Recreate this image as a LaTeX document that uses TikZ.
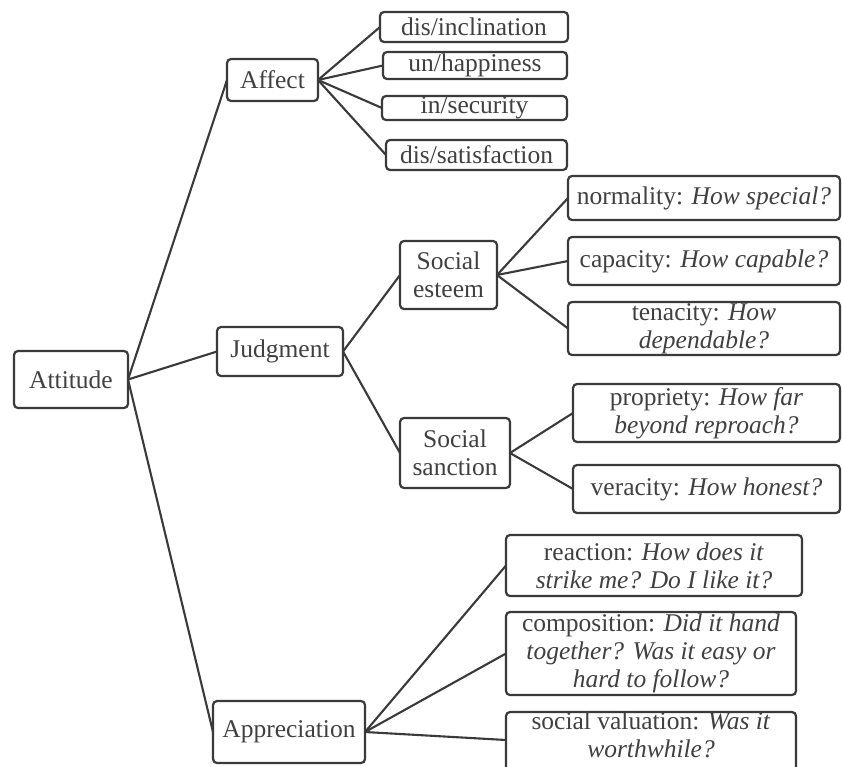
\documentclass[tikz,border=0pt]{standalone}
\usepackage{fontspec}
\setmainfont{Liberation Serif}
\definecolor{ink}{HTML}{3A3A3A}
\definecolor{txt}{HTML}{404040}
\begin{document}
\begin{tikzpicture}[x=1pt,y=-1pt,
  box/.style={draw=ink, line width=2.2pt, rounded corners=4pt, inner sep=0pt, outer sep=0pt,
    align=center, text=txt, font=\fontsize{25.5}{28}\selectfont},
  link/.style={draw=ink, line width=2.1pt}]
\clip (0,0) rectangle (842,767);
\fill[white] (0,0) rectangle (842,767);
% level 0
\node[box, minimum width=114pt, minimum height=57pt] (att) at (71,379.5) {Attitude};
% level 1
\node[box, minimum width=91pt, minimum height=42pt] (aff) at (272.5,80) {Affect};
\node[box, minimum width=126pt, minimum height=49pt] (jud) at (280,351.5) {Judgment};
\node[box, minimum width=152pt, minimum height=62pt] (app) at (289,732) {Appreciation};
% affect children
\node[box, minimum width=188pt, minimum height=30pt] (a1) at (474,27) {dis/inclination};
\node[box, minimum width=184pt, minimum height=27pt] (a2) at (475,65.5) {un/happiness};
\node[box, minimum width=185pt, minimum height=24pt] (a3) at (474.5,108) {in/security};
\node[box, minimum width=181pt, minimum height=30pt] (a4) at (476.5,155) {dis/satisfaction};
% judgment children
\node[box, minimum width=97pt, minimum height=68pt] (se) at (448.5,275) {Social\\esteem};
\node[box, minimum width=110pt, minimum height=70pt] (ss) at (455,453) {Social\\sanction};
% social esteem children
\node[box, minimum width=272pt, minimum height=44pt] (n1) at (704,198) {normality: \textit{How special?}};
\node[box, minimum width=272pt, minimum height=48pt] (n2) at (704,261) {capacity: \textit{How capable?}};
\node[box, minimum width=272pt, minimum height=53pt] (n3) at (704,328.5) {tenacity: \textit{How}\\\textit{dependable?}};
% social sanction children
\node[box, minimum width=267pt, minimum height=58pt] (s1) at (706.5,413) {propriety: \textit{How far}\\\textit{beyond reproach?}};
\node[box, minimum width=267pt, minimum height=48pt] (s2) at (706.5,489) {veracity: \textit{How honest?}};
% appreciation children
\node[box, minimum width=296pt, minimum height=61pt] (p1) at (654,565.5) {reaction: \textit{How does it}\\\textit{strike me? Do I like it?}};
\node[box, minimum width=290pt, minimum height=83pt] (p2) at (651,653.5) {composition: \textit{Did it hand}\\\textit{together? Was it easy or}\\\textit{hard to follow?}};
\node[box, minimum width=290pt, minimum height=72pt, anchor=north] (p3) at (651,712) {social valuation: \textit{Was it}\\\textit{worthwhile?}\\[2pt]};
% connectors
\draw[link] (att.east) -- (aff.west);
\draw[link] (att.east) -- (jud.west);
\draw[link] (att.east) -- (app.west);
\draw[link] (aff.east) -- (a1.west);
\draw[link] (aff.east) -- (a2.west);
\draw[link] (aff.east) -- (a3.west);
\draw[link] (aff.east) -- (a4.west);
\draw[link] (jud.east) -- (se.west);
\draw[link] (jud.east) -- (ss.west);
\draw[link] (se.east) -- (n1.west);
\draw[link] (se.east) -- (n2.west);
\draw[link] (se.east) -- (n3.west);
\draw[link] (ss.east) -- (s1.west);
\draw[link] (ss.east) -- (s2.west);
\draw[link] (app.east) -- (p1.west);
\draw[link] (app.east) -- (p2.west);
\draw[link] (app.east) -- ([yshift=-28pt]p3.north west);
\end{tikzpicture}
\end{document}
